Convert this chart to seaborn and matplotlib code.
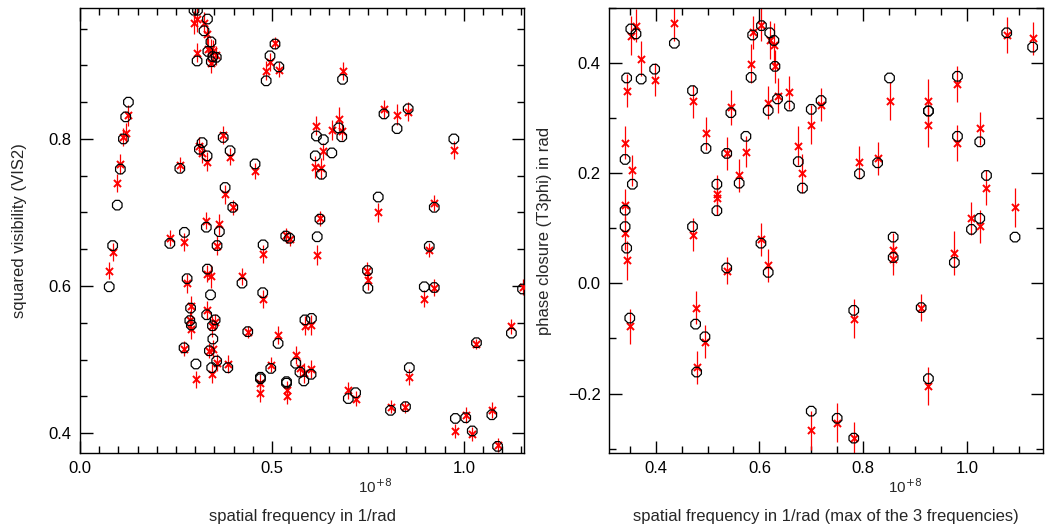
import numpy as np
import pandas as pd
import matplotlib
matplotlib.use("Agg")
import matplotlib.pyplot as plt
import seaborn as sns
from matplotlib.ticker import MultipleLocator, FuncFormatter

# === Data (frequencies in units of 1e8 1/rad)
vis2_freq = [0.076, 0.085, 0.097, 0.105, 0.113, 0.119, 0.126, 0.234, 0.260, 0.272,
             0.271, 0.279, 0.288, 0.286, 0.290, 0.297, 0.302, 0.306, 0.305, 0.311,
             0.318, 0.323, 0.329, 0.332, 0.333, 0.331, 0.332, 0.340, 0.330, 0.337,
             0.341, 0.346, 0.355, 0.342, 0.343, 0.346, 0.352, 0.345, 0.356, 0.357,
             0.363, 0.373, 0.378, 0.385, 0.391, 0.398, 0.422, 0.437, 0.456, 0.470,
             0.470, 0.476, 0.477, 0.485, 0.495, 0.497, 0.508, 0.516, 0.518, 0.536,
             0.538, 0.538, 0.546, 0.562, 0.573, 0.583, 0.586, 0.602, 0.603, 0.613,
             0.616, 0.618, 0.625, 0.629, 0.634, 0.656, 0.674, 0.682, 0.684, 0.699,
             0.718, 0.749, 0.750, 0.777, 0.792, 0.809, 0.826, 0.848, 0.855, 0.858,
             0.897, 0.910, 0.923, 0.923, 0.974, 0.978, 1.005, 1.022, 1.033, 1.073,
             1.088, 1.124, 1.153]
vis2_model = [0.599, 0.655, 0.710, 0.759, 0.800, 0.830, 0.850, 0.658, 0.760, 0.673,
              0.516, 0.610, 0.570, 0.553, 0.547, 0.975, 0.494, 0.975, 0.906, 0.786,
              0.795, 0.947, 0.680, 0.963, 0.919, 0.777, 0.623, 0.588, 0.561, 0.512,
              0.932, 0.912, 0.911, 0.905, 0.489, 0.528, 0.554, 0.546, 0.498, 0.655,
              0.674, 0.802, 0.734, 0.489, 0.784, 0.707, 0.604, 0.538, 0.766, 0.476,
              0.474, 0.591, 0.656, 0.879, 0.913, 0.488, 0.929, 0.522, 0.898, 0.668,
              0.468, 0.470, 0.665, 0.495, 0.483, 0.471, 0.554, 0.480, 0.556, 0.777,
              0.804, 0.667, 0.691, 0.752, 0.799, 0.781, 0.815, 0.803, 0.881, 0.447,
              0.455, 0.621, 0.597, 0.721, 0.834, 0.431, 0.814, 0.436, 0.841, 0.489,
              0.599, 0.654, 0.707, 0.598, 0.800, 0.420, 0.421, 0.403, 0.523, 0.425,
              0.382, 0.536, 0.596]
vis2_obs = [0.621, 0.646, 0.740, 0.766, 0.803, 0.808, 0.832, 0.665, 0.765, 0.660,
            0.515, 0.604, 0.573, 0.554, 0.542, 0.958, 0.473, 0.963, 0.917, 0.790,
            0.781, 0.958, 0.689, 0.942, 0.922, 0.769, 0.617, 0.613, 0.567, 0.512,
            0.922, 0.919, 0.914, 0.903, 0.481, 0.514, 0.551, 0.545, 0.496, 0.655,
            0.684, 0.805, 0.725, 0.494, 0.776, 0.707, 0.613, 0.538, 0.756, 0.468,
            0.455, 0.582, 0.644, 0.893, 0.905, 0.493, 0.930, 0.533, 0.894, 0.669,
            0.459, 0.451, 0.664, 0.506, 0.489, 0.482, 0.546, 0.487, 0.547, 0.762,
            0.818, 0.642, 0.692, 0.760, 0.783, 0.812, 0.827, 0.811, 0.892, 0.458,
            0.447, 0.621, 0.608, 0.700, 0.841, 0.436, 0.833, 0.436, 0.837, 0.476,
            0.583, 0.649, 0.713, 0.598, 0.785, 0.403, 0.425, 0.399, 0.521, 0.432,
            0.384, 0.545, 0.599]
vis2_err = [0.012, 0.012, 0.012, 0.014, 0.012, 0.013, 0.014, 0.011, 0.010, 0.012,
            0.010, 0.013, 0.014, 0.012, 0.014, 0.016, 0.012, 0.018, 0.013, 0.012,
            0.014, 0.014, 0.012, 0.013, 0.015, 0.013, 0.012, 0.016, 0.012, 0.010,
            0.014, 0.016, 0.013, 0.014, 0.013, 0.012, 0.011, 0.014, 0.012, 0.013,
            0.014, 0.012, 0.013, 0.012, 0.012, 0.010, 0.012, 0.008, 0.011, 0.012,
            0.012, 0.012, 0.012, 0.013, 0.012, 0.010, 0.008, 0.012, 0.010, 0.010,
            0.012, 0.012, 0.010, 0.012, 0.012, 0.014, 0.013, 0.012, 0.014, 0.015,
            0.013, 0.014, 0.010, 0.014, 0.012, 0.014, 0.016, 0.013, 0.012, 0.011,
            0.010, 0.012, 0.014, 0.013, 0.012, 0.009, 0.014, 0.008, 0.013, 0.011,
            0.011, 0.010, 0.011, 0.011, 0.012, 0.010, 0.011, 0.010, 0.007, 0.011,
            0.010, 0.010, 0.011]

t3_freq = [0.344, 0.352, 0.362, 0.372, 0.398, 0.436, 0.471, 0.545, 0.497, 0.537,
           0.574, 0.561, 0.355, 0.518, 0.518, 0.587, 0.584, 0.604, 0.471, 0.477,
           0.495, 0.479, 0.537, 0.603, 0.620, 0.628, 0.630, 0.617, 0.635, 0.658,
           0.700, 0.719, 0.675, 0.683, 0.793, 0.828, 0.851, 0.858, 0.858, 0.617,
           0.782, 0.700, 0.750, 0.782, 0.926, 0.926, 0.982, 0.982, 1.025, 1.038,
           1.077, 1.127, 1.025, 1.009, 1.093, 0.976, 0.912, 0.926, 0.341, 0.341,
           0.341, 0.344, 0.350]
t3_model = [0.373, 0.462, 0.453, 0.371, 0.389, 0.436, 0.350, 0.310, 0.245, 0.236,
            0.267, 0.182, 0.180, 0.180, 0.132, 0.451, 0.374, 0.468, 0.103, -0.074,
            -0.097, -0.161, 0.028, 0.073, 0.455, 0.441, 0.394, 0.314, 0.335, 0.322,
            0.316, 0.332, 0.221, 0.173, 0.199, 0.219, 0.373, 0.084, 0.047, 0.020,
            -0.049, -0.232, -0.245, -0.281, 0.313, 0.313, 0.376, 0.267, 0.257, 0.196,
            0.455, 0.429, 0.118, 0.098, 0.084, 0.038, -0.044, -0.173, 0.225, 0.133,
            0.103, 0.064, -0.063]
t3_obs = [0.350, 0.450, 0.468, 0.408, 0.370, 0.473, 0.331, 0.320, 0.273, 0.236,
          0.239, 0.196, 0.205, 0.162, 0.155, 0.456, 0.399, 0.470, 0.088, -0.044,
          -0.106, -0.152, 0.023, 0.080, 0.442, 0.433, 0.394, 0.328, 0.341, 0.347,
          0.288, 0.324, 0.250, 0.200, 0.220, 0.227, 0.331, 0.061, 0.045, 0.033,
          -0.064, -0.267, -0.253, -0.281, 0.332, 0.288, 0.362, 0.255, 0.282, 0.174,
          0.451, 0.445, 0.104, 0.118, 0.138, 0.056, -0.044, -0.186, 0.255, 0.142,
          0.091, 0.042, -0.078]
t3_err = [0.030, 0.035, 0.030, 0.032, 0.030, 0.032, 0.030, 0.032, 0.030, 0.030,
          0.028, 0.030, 0.028, 0.035, 0.030, 0.030, 0.035, 0.030, 0.030, 0.030,
          0.030, 0.030, 0.025, 0.030, 0.035, 0.040, 0.030, 0.030, 0.032, 0.030,
          0.035, 0.030, 0.035, 0.035, 0.030, 0.030, 0.035, 0.030, 0.030, 0.030,
          0.035, 0.035, 0.035, 0.030, 0.040, 0.040, 0.032, 0.032, 0.030, 0.032,
          0.032, 0.030, 0.030, 0.030, 0.035, 0.040, 0.025, 0.035, 0.030, 0.030,
          0.030, 0.035, 0.032]

# === Style
sns.set_style("ticks")
plt.rcParams['font.family'] = ['Liberation Sans', 'DejaVu Sans']
plt.rcParams['axes.linewidth'] = 1.0

fig = plt.figure(figsize=(10.45, 5.27), dpi=100)
ax1 = fig.add_axes([0.0766, 0.1404, 0.4249, 0.8444])
ax2 = fig.add_axes([0.5828, 0.1404, 0.4153, 0.8444])

# one decimal, real minus sign
fmt1 = FuncFormatter(lambda v, pos: f"{v:.1f}".replace('-', '\u2212'))


def draw_panel(ax, freq, obs, err, model):
    df = pd.DataFrame({'freq': freq, 'obs': obs, 'err': err, 'model': model})
    ax.errorbar(df['freq'], df['obs'], yerr=df['err'], fmt='none',
                ecolor='red', elinewidth=0.9, capsize=0, zorder=2)
    sns.scatterplot(data=df, x='freq', y='obs', marker='x', color='red',
                    s=26, linewidth=1.4, ax=ax, zorder=3, legend=False)
    sns.scatterplot(data=df, x='freq', y='model', marker='8', facecolor='none',
                    edgecolor='black', s=55, linewidth=0.9, ax=ax, zorder=4, legend=False)
    ax.set_xlabel('')
    ax.set_ylabel('')
    for sp in ax.spines.values():
        sp.set_color('black')
        sp.set_visible(True)
    ax.tick_params(which='both', direction='in', top=True, right=True,
                   colors='black', labelsize=12, pad=6)
    ax.tick_params(which='major', length=9, width=1)
    ax.tick_params(which='minor', length=5, width=1)
    ax.xaxis.set_major_formatter(fmt1)
    ax.yaxis.set_major_formatter(fmt1)


draw_panel(ax1, vis2_freq, vis2_obs, vis2_err, vis2_model)
ax1.set_xlim(0.0, 1.157)
ax1.set_ylim(0.373, 0.978)
ax1.xaxis.set_major_locator(MultipleLocator(0.5))
ax1.xaxis.set_minor_locator(MultipleLocator(0.05))
ax1.yaxis.set_major_locator(MultipleLocator(0.2))
ax1.yaxis.set_minor_locator(MultipleLocator(0.05))

draw_panel(ax2, t3_freq, t3_obs, t3_err, t3_model)
ax2.set_xlim(0.31, 1.147)
ax2.set_ylim(-0.308, 0.50)
ax2.xaxis.set_major_locator(MultipleLocator(0.2))
ax2.xaxis.set_minor_locator(MultipleLocator(0.05))
ax2.yaxis.set_major_locator(MultipleLocator(0.2))
ax2.yaxis.set_minor_locator(MultipleLocator(0.1))

# === Labels
fig.text(0.359, 0.076, r'10$^{+8}$', fontsize=11, ha='center', va='center')
fig.text(0.866, 0.076, r'10$^{+8}$', fontsize=11, ha='center', va='center')
fig.text(0.289, 0.019, 'spatial frequency in 1/rad', fontsize=12, ha='center', va='center')
fig.text(0.790, 0.019, 'spatial frequency in 1/rad (max of the 3 frequencies)',
         fontsize=12, ha='center', va='center')
fig.text(0.019, 0.5626, 'squared visibility (VIS2)', fontsize=12, rotation=90,
         ha='center', va='center')
fig.text(0.5215, 0.5626, 'phase closure (T3phi) in rad', fontsize=12, rotation=90,
         ha='center', va='center')

fig.savefig('out.png', dpi=100)
